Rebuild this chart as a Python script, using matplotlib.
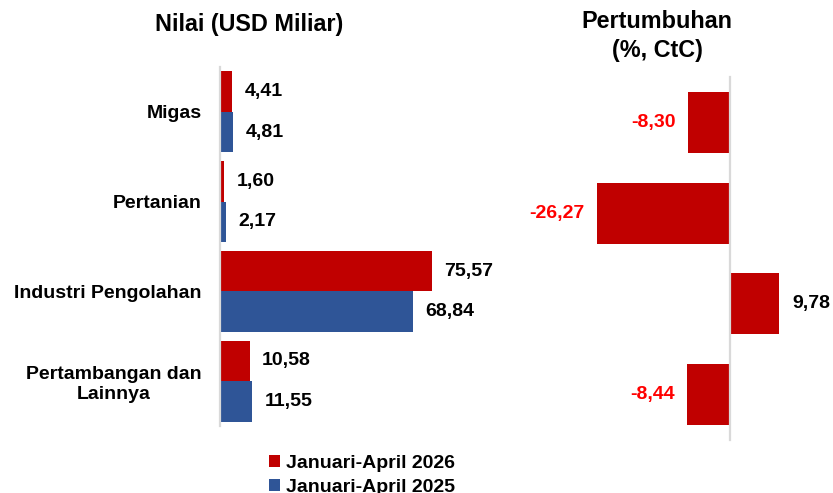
import matplotlib
matplotlib.use("Agg")
import matplotlib.pyplot as plt
from matplotlib.patches import Patch

plt.rcParams['font.family'] = ['Liberation Sans', 'DejaVu Sans']
plt.rcParams['font.weight'] = 'bold'

categories = ["Migas", "Pertanian", "Industri Pengolahan", "Pertambangan dan\nLainnya"]
val_2026 = [4.41, 1.60, 75.57, 10.58]
val_2025 = [4.81, 2.17, 68.84, 11.55]
growth = [-8.30, -26.27, 9.78, -8.44]
series_labels = ["Januari-April 2026", "Januari-April 2025"]

RED = "#C00000"
BLUE = "#2F5597"
GRID = "#D9D9D9"

W, H = 833, 493
fig = plt.figure(figsize=(W / 100, H / 100), dpi=100)

def fmt(v):
    return f"{v:.2f}".replace(".", ",")

# Left axes: values
axL = fig.add_axes([220 / W, 1 - 426 / H, 300 / W, 359 / H])
ypos = list(range(len(categories)))
bh = 0.45
axL.barh([y - bh / 2 for y in ypos], val_2026, height=bh, color=RED, label=series_labels[0])
axL.barh([y + bh / 2 for y in ypos], val_2025, height=bh, color=BLUE, label=series_labels[1])
axL.set_xlim(0, 107)
axL.set_ylim(3.5, -0.5)
axL.set_yticks(ypos)
axL.set_yticklabels(categories, fontsize=14, fontweight='bold', multialignment='center')
axL.tick_params(axis='y', length=0, pad=13)
axL.set_xticks([])
for s in ['top', 'right', 'bottom']:
    axL.spines[s].set_visible(False)
axL.spines['left'].set_color(GRID)
axL.spines['left'].set_linewidth(1.6)
for y, v in zip(ypos, val_2026):
    axL.annotate(fmt(v), (v, y - bh / 2), xytext=(9, 0), textcoords='offset points',
                 ha='left', va='center', fontsize=14, fontweight='bold', color='black')
for y, v in zip(ypos, val_2025):
    axL.annotate(fmt(v), (v, y + bh / 2), xytext=(9, 0), textcoords='offset points',
                 ha='left', va='center', fontsize=14, fontweight='bold', color='black')

# Right axes: growth
px_per = 5.06
xmin, xmax = -30, 12
left_px = 730 + xmin * px_per
axR = fig.add_axes([left_px / W, 1 - 440 / H, (xmax - xmin) * px_per / W, 363 / H])
axR.barh(ypos, growth, height=0.67, color=RED)
axR.set_xlim(xmin, xmax)
axR.set_ylim(3.5, -0.5)
axR.set_xticks([])
axR.set_yticks([])
for s in ['top', 'right', 'bottom']:
    axR.spines[s].set_visible(False)
axR.spines['left'].set_position(('data', 0))
axR.spines['left'].set_color(GRID)
axR.spines['left'].set_linewidth(1.6)
for y, v in zip(ypos, growth):
    if v < 0:
        axR.annotate(fmt(v), (v, y), xytext=(-9, 0), textcoords='offset points',
                     ha='right', va='center', fontsize=14, fontweight='bold', color='#FF0000')
    else:
        axR.annotate(fmt(v), (v, y), xytext=(9, 0), textcoords='offset points',
                     ha='left', va='center', fontsize=14, fontweight='bold', color='black')

# Titles
fig.text(249 / W, 1 - 25 / H, "Nilai (USD Miliar)", ha='center', va='center',
         fontsize=16.8, fontweight='bold')
fig.text(657 / W, 1 - 36 / H, "Pertumbuhan\n(%, CtC)", ha='center', va='center',
         fontsize=16.8, fontweight='bold', linespacing=1.3)

# Legend
handles = [Patch(facecolor=RED), Patch(facecolor=BLUE)]
fig.legend(handles, series_labels, loc='upper left', bbox_to_anchor=(269 / W, 1 - 455 / H),
           frameon=False, prop={'weight': 'bold', 'size': 14},
           handlelength=0.55, handleheight=0.55, handletextpad=0.3, labelspacing=0.35,
           borderpad=0, borderaxespad=0)

fig.savefig("out.png", dpi=100)
